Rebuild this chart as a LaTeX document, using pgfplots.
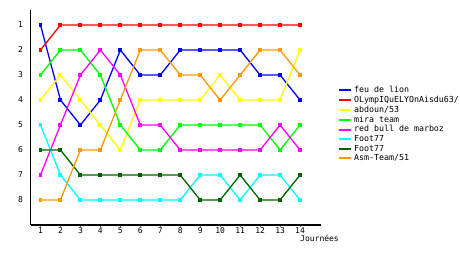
\documentclass[border=0pt]{standalone}
\usepackage{fontspec}
\setmainfont{DejaVu Sans Mono}
\usepackage{pgfplots}
\pgfplotsset{compat=1.18}
\definecolor{cblue}{RGB}{0,0,255}
\definecolor{cred}{RGB}{255,0,0}
\definecolor{cyellow}{RGB}{255,255,0}
\definecolor{cgreen}{RGB}{0,255,0}
\definecolor{cmag}{RGB}{255,0,255}
\definecolor{ccyan}{RGB}{0,255,255}
\definecolor{cdgreen}{RGB}{0,100,0}
\definecolor{corange}{RGB}{255,153,0}
\begin{document}
\begin{tikzpicture}
\useasboundingbox (0,0) rectangle (460pt,255pt);
\begin{axis}[
  at={(30.5pt,30pt)}, anchor=south west,
  scale only axis, width=290.5pt, height=215pt,
  xmin=0.5, xmax=15.05, ymin=0.4, ymax=9, y dir=reverse,
  axis x line=bottom, axis y line=left,
  axis line style={-, line width=1.2pt, black},
  xtick={1,...,14}, ytick={1,...,8},
  tick align=outside, major tick length=2pt,
  ytick style={draw=none},
  xtick style={line width=0.8pt},
  /pgf/number format/assume math mode=true,
  tick label style={font=\fontsize{8}{8}\selectfont},
  yticklabel style={xshift=-2pt},
  xticklabel style={yshift=2.5pt},
  every axis plot/.append style={line width=1.3pt, mark=square*, mark size=1.3pt},
  legend style={at={(1.058,0.655)}, anchor=north west, draw=none, fill=none,
    font=\fontsize{8.3}{8.3}\selectfont, row sep=-2pt, inner sep=0pt,
    legend cell align=left},
  legend image code/.code={\draw[#1, mark=none, line width=2pt] (0pt,0pt) -- (12pt,0pt);},
  clip=false,
]
\addplot[cblue] coordinates {(1,1)(2,4)(3,5)(4,4)(5,2)(6,3)(7,3)(8,2)(9,2)(10,2)(11,2)(12,3)(13,3)(14,4)};
\addlegendentry{feu de lion}
\addplot[cred] coordinates {(1,2)(2,1)(3,1)(4,1)(5,1)(6,1)(7,1)(8,1)(9,1)(10,1)(11,1)(12,1)(13,1)(14,1)};
\addlegendentry{OLympIQuELYOnAisdu63/}
\addplot[cyellow] coordinates {(1,4)(2,3)(3,4)(4,5)(5,6)(6,4)(7,4)(8,4)(9,4)(10,3)(11,4)(12,4)(13,4)(14,2)};
\addlegendentry{abdoun/53}
\addplot[cgreen] coordinates {(1,3)(2,2)(3,2)(4,3)(5,5)(6,6)(7,6)(8,5)(9,5)(10,5)(11,5)(12,5)(13,6)(14,5)};
\addlegendentry{mira team}
\addplot[cmag] coordinates {(1,7)(2,5)(3,3)(4,2)(5,3)(6,5)(7,5)(8,6)(9,6)(10,6)(11,6)(12,6)(13,5)(14,6)};
\addlegendentry{red bull de marboz}
\addplot[ccyan] coordinates {(1,5)(2,7)(3,8)(4,8)(5,8)(6,8)(7,8)(8,8)(9,7)(10,7)(11,8)(12,7)(13,7)(14,8)};
\addlegendentry{Foot77}
\addplot[cdgreen] coordinates {(1,6)(2,6)(3,7)(4,7)(5,7)(6,7)(7,7)(8,7)(9,8)(10,8)(11,7)(12,8)(13,8)(14,7)};
\addlegendentry{Foot77}
\addplot[corange] coordinates {(1,8)(2,8)(3,6)(4,6)(5,4)(6,2)(7,2)(8,3)(9,3)(10,4)(11,3)(12,2)(13,2)(14,3)};
\addlegendentry{Asm-Team/51}
\node[anchor=north west, font=\fontsize{8}{8}\selectfont, inner sep=0pt] at ([yshift=-10pt]axis cs:14,9) {Journées};
\end{axis}
\end{tikzpicture}
\end{document}
